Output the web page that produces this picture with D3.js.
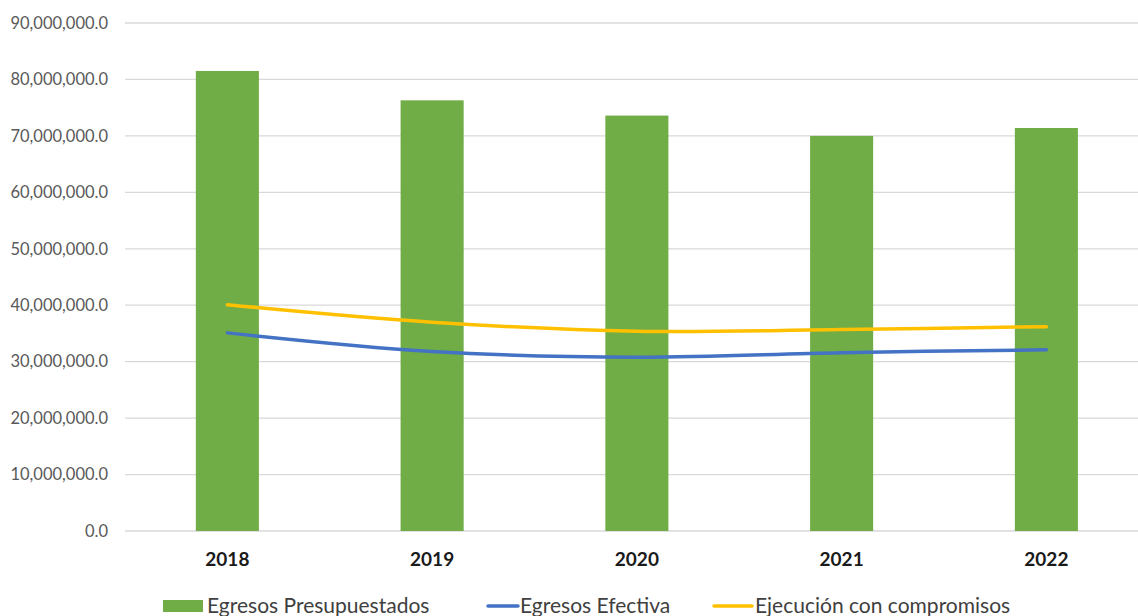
<!DOCTYPE html>
<html><head><meta charset="utf-8">
<script src="https://cdn.jsdelivr.net/npm/d3@7"></script>
<style>body{margin:0;background:#fff}svg{display:block}</style>
</head><body><svg id="c" width="1138" height="616"></svg>
<script>
const categories = ["2018","2019","2020","2021","2022"];
const presupuestados = [81500000, 76300000, 73600000, 70000000, 71400000];
const efectiva = [35100000, 31800000, 30800000, 31600000, 32100000];
const compromisos = [40100000, 37000000, 35400000, 35700000, 36200000];
const yTicks = [0,10000000,20000000,30000000,40000000,50000000,60000000,70000000,80000000,90000000];
const seriesNames = ["Egresos Presupuestados","Egresos Efectiva","Ejecución con compromisos"];

(function(){
const svg = d3.select("#c");
const font = "Lato, 'Open Sans', sans-serif";
const pLeft = 125, pRight = 1148.75, pTop = 23, pBottom = 531;
const x = d3.scaleBand().domain(categories).range([pLeft, pRight]).paddingInner(0.692).paddingOuter(0.346);
const y = d3.scaleLinear().domain([0, 90000000]).range([pBottom, pTop]);

svg.append("g").selectAll("line").data(yTicks).join("line")
  .attr("x1", pLeft).attr("x2", 1138).attr("y1", d=>y(d)).attr("y2", d=>y(d))
  .attr("stroke", "#d9d9d9").attr("stroke-width", 1.3);

const fmt = d3.format(",.1f");
svg.append("g").selectAll("text").data(yTicks).join("text")
  .attr("x", 108).attr("y", d=>y(d)).attr("dy","0.35em").attr("text-anchor","end")
  .attr("font-family", font).attr("font-size", 16.5).attr("fill","#595959")
  .text(d=>fmt(d));

svg.append("g").selectAll("rect").data(presupuestados).join("rect")
  .attr("x",(d,i)=>x(categories[i])).attr("width",x.bandwidth())
  .attr("y",d=>y(d)).attr("height",d=>pBottom-y(d)).attr("fill","#70ad47");

const cx = i => x(categories[i]) + x.bandwidth()/2;
const line = d3.line().x((d,i)=>cx(i)).y(d=>y(d)).curve(d3.curveCatmullRom.alpha(0.5));
svg.append("path").attr("d", line(compromisos)).attr("fill","none").attr("stroke","#ffc000").attr("stroke-width",3.5).attr("stroke-linecap","round");
svg.append("path").attr("d", line(efectiva)).attr("fill","none").attr("stroke","#4472c4").attr("stroke-width",3.5).attr("stroke-linecap","round");

svg.append("g").selectAll("text").data(categories).join("text")
  .attr("x",(d,i)=>cx(i)).attr("y",566).attr("text-anchor","middle")
  .attr("font-family", font).attr("font-size",19).attr("font-weight","bold").attr("fill","#1a1a1a")
  .text(d=>d);

const lg = svg.append("g").attr("font-family", font).attr("font-size",21).attr("fill","#404040");
lg.append("rect").attr("x",163).attr("y",600).attr("width",40).attr("height",12).attr("fill","#70ad47");
lg.append("text").attr("x",207).attr("y",613).text(seriesNames[0]);
lg.append("line").attr("x1",488).attr("x2",518).attr("y1",606).attr("y2",606).attr("stroke","#4472c4").attr("stroke-width",3.5).attr("stroke-linecap","round");
lg.append("text").attr("x",520).attr("y",613).text(seriesNames[1]);
lg.append("line").attr("x1",714).attr("x2",752).attr("y1",606).attr("y2",606).attr("stroke","#ffc000").attr("stroke-width",3.5).attr("stroke-linecap","round");
lg.append("text").attr("x",755).attr("y",613).text(seriesNames[2]);
})();
</script></body></html>
